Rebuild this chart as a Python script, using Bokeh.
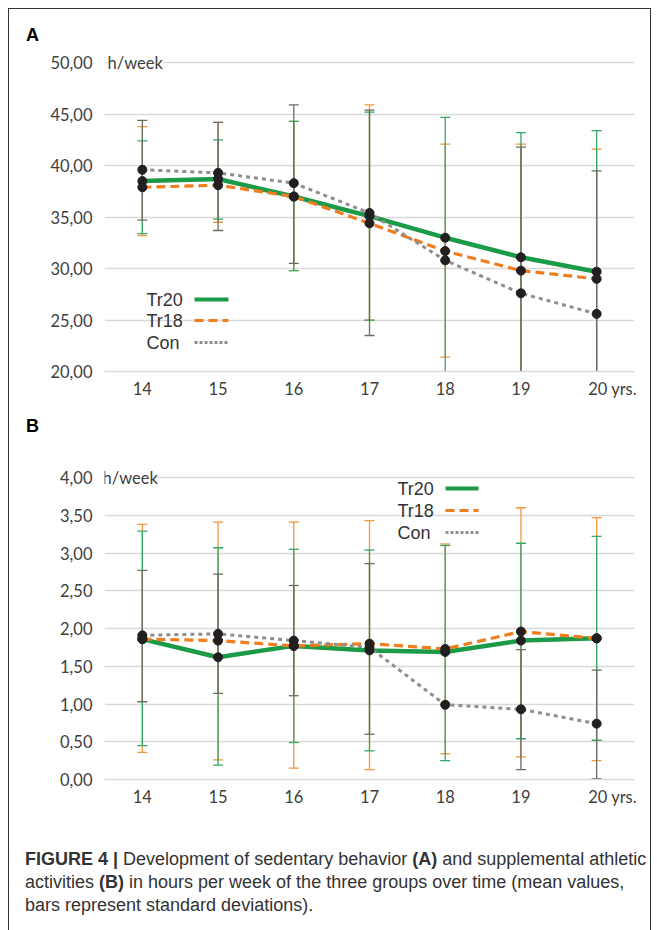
import numpy as np
from bokeh.plotting import figure
from bokeh.models import FixedTicker, Label, Div
from bokeh.layouts import column
from bokeh.embed import file_html
from bokeh.resources import INLINE

# ---------------- data ----------------
ages = [14, 15, 16, 17, 18, 19, 20]
age_labels = ["14", "15", "16", "17", "18", "19", "20 yrs."]
groups = ["Tr20", "Tr18", "Con"]

# Panel A: sedentary behaviour (h/week)
a_ticks = [20, 25, 30, 35, 40, 45, 50]
a_tick_labels = ["20,00", "25,00", "30,00", "35,00", "40,00", "45,00", "50,00"]
a_tr20 = [38.5, 38.7, 37.0, 35.1, 33.0, 31.1, 29.7]
a_tr18 = [37.9, 38.1, 37.0, 34.4, 31.7, 29.8, 29.0]
a_con = [39.6, 39.3, 38.3, 35.4, 30.8, 27.6, 25.6]
a_tr20_hi = [42.4, 42.5, 44.3, 45.2, 44.7, 43.2, 43.4]
a_tr20_lo = [33.4, 34.8, 29.8, 25.0, 19.0, 19.0, 16.0]
a_tr18_hi = [43.8, 44.2, 44.3, 45.9, 42.1, 42.1, 41.6]
a_tr18_lo = [33.2, 34.5, 29.8, 25.0, 21.4, 17.4, 16.3]
a_con_hi = [44.4, 44.2, 45.9, 45.4, np.nan, 41.8, 39.5]
a_con_lo = [34.7, 33.7, 30.5, 23.5, np.nan, 13.4, 11.7]

# Panel B: supplemental athletic activities (h/week)
b_ticks = [0.0, 0.5, 1.0, 1.5, 2.0, 2.5, 3.0, 3.5, 4.0]
b_tick_labels = ["0,00", "0,50", "1,00", "1,50", "2,00", "2,50", "3,00", "3,50", "4,00"]
b_tr20 = [1.86, 1.62, 1.77, 1.71, 1.69, 1.84, 1.87]
b_tr18 = [1.86, 1.84, 1.77, 1.80, 1.73, 1.96, 1.87]
b_con = [1.91, 1.93, 1.84, 1.75, 0.99, 0.93, 0.74]
b_tr20_hi = [3.29, 3.07, 3.05, 3.04, 3.10, 3.13, 3.22]
b_tr20_lo = [0.45, 0.19, 0.49, 0.38, 0.25, 0.54, 0.52]
b_tr18_hi = [3.38, 3.41, 3.41, 3.43, 3.12, 3.60, 3.47]
b_tr18_lo = [0.36, 0.26, 0.15, 0.13, 0.34, 0.30, 0.25]
b_con_hi = [2.77, 2.72, 2.57, 2.86, np.nan, 1.72, 1.45]
b_con_lo = [1.03, 1.14, 1.11, 0.60, np.nan, 0.13, 0.01]

# ---------------- styles ----------------
LINE_COL = {"Tr20": "#1b9a48", "Tr18": "#f07d1e", "Con": "#8e8e8e"}
LINE_W = {"Tr20": 4.5, "Tr18": 3.2, "Con": 3.0}
LINE_DASH = {"Tr20": "solid", "Tr18": "9 5", "Con": "4 4"}
EB_COL = {"Tr20": "#35a866", "Tr18": "#f29640", "Con": "#6c6c5f"}
DOT_COL = "#231f20"
TXT = "#404040"
AX_FONT = "Lato"
LEG_FONT = "Liberation Sans"

FRAME_W = 530
X0, X1 = 13.5, 20.5
FIG_W = 95 + FRAME_W + 16
PX_PER_YEAR = FRAME_W / (X1 - X0)
# the last label "20 yrs." is set so that its "20" sits under the tick (suffix ~32px wide)
LAST_LABEL_SHIFT = 16 / PX_PER_YEAR


def make_panel(y0, y1, ticks, tick_labels, means, his, los,
               top, frame_h, bottom, legend_px, unit_dx):
    p = figure(width=FIG_W, height=top + frame_h + bottom,
               x_range=(X0, X1), y_range=(y0, y1),
               output_backend="svg", toolbar_location=None,
               min_border_left=95, min_border_right=16,
               min_border_top=top, min_border_bottom=bottom,
               outline_line_color=None)

    def px(dx, dy):
        return (X0 + dx / PX_PER_YEAR, y1 - dy * (y1 - y0) / frame_h)

    # axes
    label_pos = ages[:-1] + [ages[-1] + LAST_LABEL_SHIFT]
    p.xaxis.ticker = FixedTicker(ticks=label_pos)
    p.xaxis.major_label_overrides = dict(zip(label_pos, age_labels))
    p.xaxis.axis_line_color = "#d9d9d9"
    p.xaxis.axis_line_width = 1.3
    p.xaxis.major_tick_line_color = None
    p.xaxis.minor_tick_line_color = None
    p.xaxis.major_label_standoff = 1
    p.yaxis.ticker = FixedTicker(ticks=ticks)
    p.yaxis.major_label_overrides = dict(zip(ticks, tick_labels))
    p.yaxis.axis_line_color = None
    p.yaxis.major_tick_line_color = None
    p.yaxis.minor_tick_line_color = None
    p.yaxis.major_label_standoff = 6
    for ax in (p.xaxis, p.yaxis):
        ax.major_label_text_font = AX_FONT
        ax.major_label_text_font_size = "16.5px"
        ax.major_label_text_color = TXT
    p.xgrid.visible = False
    p.ygrid.ticker = FixedTicker(ticks=ticks)
    p.ygrid.grid_line_color = "#d9d9d9"
    p.ygrid.grid_line_width = 1.3

    # error bars (drawn first)
    for g in ["Tr18", "Tr20", "Con"]:
        hi = np.array(his[g], dtype=float)
        lo = np.array(los[g], dtype=float)
        ok = ~np.isnan(hi)
        xs = list(np.array(ages)[ok])
        p.segment(x0=xs, y0=list(lo[ok]), x1=xs, y1=list(hi[ok]),
                  line_color=EB_COL[g], line_width=1.3)
        for arr in (hi, lo):
            p.scatter(xs, list(arr[ok]), marker="dash", size=10,
                      line_color=EB_COL[g], line_width=1.3)

    # mean lines
    for g in ["Tr20", "Tr18", "Con"]:
        p.line(ages, means[g], line_color=LINE_COL[g], line_width=LINE_W[g],
               line_dash=LINE_DASH[g])
    for g in ["Tr20", "Tr18", "Con"]:
        p.scatter(ages, means[g], size=9, fill_color=DOT_COL, line_color=DOT_COL)

    # legend (label left, sample right)
    tx, lx0, lx1, ys = legend_px
    for g, dy in zip(groups, ys):
        x, y = px(tx, dy)
        p.add_layout(Label(x=x, y=y, text=g, text_font=LEG_FONT,
                           text_font_size="18px", text_color="#333333",
                           text_baseline="middle", text_align="left"))
        xa, _ = px(lx0, dy)
        xb, _ = px(lx1, dy)
        p.line([xa, xb], [y, y], line_color=LINE_COL[g],
               line_width=4 if g == "Tr20" else 3,
               line_dash=LINE_DASH[g] if g != "Con" else "3 2")

    # unit text next to top tick label
    x, _ = px(unit_dx, 0)
    p.add_layout(Label(x=x, y=ticks[-1], text="h/week", text_font=AX_FONT,
                       text_font_size="16.5px", text_color=TXT,
                       text_baseline="middle", text_align="left",
                       background_fill_color="white"))
    return p


def letter_div(letter, height, pad_top):
    return Div(text=(f'<div style="padding:{pad_top}px 0 0 17px; font-family:\'Liberation Sans\', Arial, sans-serif; '
                     f'font-weight:bold; font-size:18px; line-height:18px; color:#000;">{letter}</div>'),
               width=FIG_W, height=height, margin=0)


divA = letter_div("A", 36, 17)
pA = make_panel(20, 50.8, a_ticks, a_tick_labels,
                {"Tr20": a_tr20, "Tr18": a_tr18, "Con": a_con},
                {"Tr20": a_tr20_hi, "Tr18": a_tr18_hi, "Con": a_con_hi},
                {"Tr20": a_tr20_lo, "Tr18": a_tr18_lo, "Con": a_con_lo},
                top=9, frame_h=317, bottom=34,
                legend_px=(42, 90, 124, [245, 266, 288]), unit_dx=3)

divB = letter_div("B", 55, 12)
pB = make_panel(0, 4.12, b_ticks, b_tick_labels,
                {"Tr20": b_tr20, "Tr18": b_tr18, "Con": b_con},
                {"Tr20": b_tr20_hi, "Tr18": b_tr18_hi, "Con": b_con_hi},
                {"Tr20": b_tr20_lo, "Tr18": b_tr18_lo, "Con": b_con_lo},
                top=8, frame_h=311, bottom=36,
                legend_px=(293, 341, 374, [20, 42, 64]), unit_dx=-2)

caption = Div(
    text=('<div style="padding:33px 0 0 16px; font-family:\'Liberation Sans\', Arial, sans-serif; '
          'font-size:18px; line-height:23px; color:#333; white-space:nowrap;">'
          '<b>FIGURE 4 |</b> Development of sedentary behavior <b>(A)</b> and supplemental athletic<br>'
          'activities <b>(B)</b> in hours per week of the three groups over time (mean values,<br>'
          'bars represent standard deviations).</div>'),
    width=FIG_W, height=115, margin=0)

layout = column(divA, pA, divB, pB, caption, margin=(8, 0, 0, 8),
                styles={"border": "1px solid #333333"})

open("out.html", "w").write(file_html(layout, INLINE))
